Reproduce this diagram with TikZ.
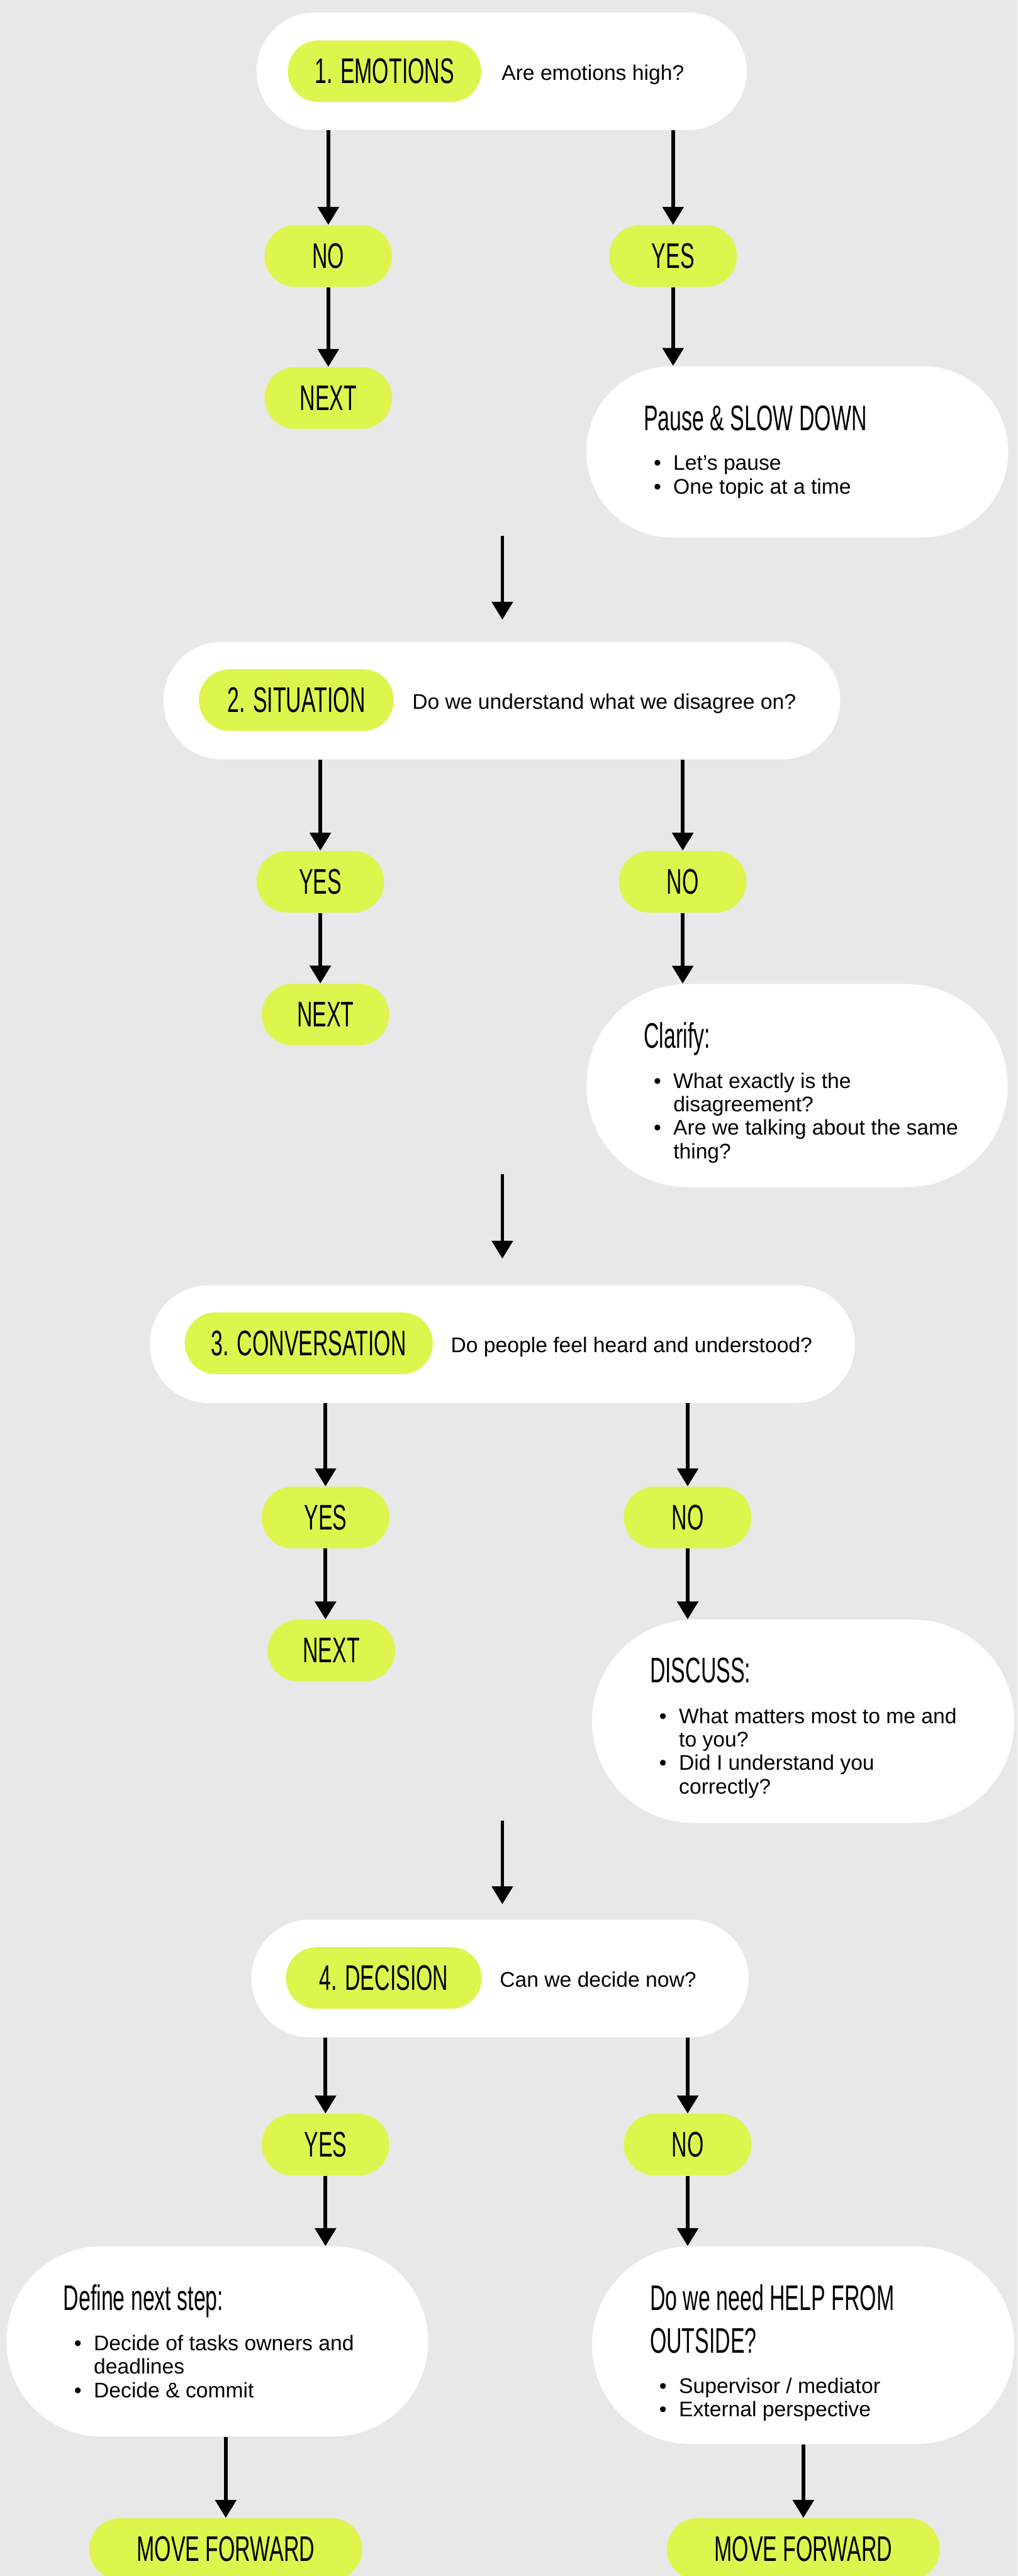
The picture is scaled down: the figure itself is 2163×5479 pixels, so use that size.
\documentclass[tikz,border=0pt]{standalone}
\usepackage{fontspec}
\setmainfont{Liberation Sans}
\newfontfamily\headfont[FakeStretch=0.6]{Liberation Sans}
\usetikzlibrary{arrows.meta, positioning, calc}
\definecolor{bggray}{HTML}{E8E8E8}
\definecolor{limegreen}{HTML}{DEF54E}
\newcommand{\bodysize}{\fontsize{12.8pt}{14.2pt}\selectfont}
\newcommand{\headsize}{\headfont\fontsize{21.5pt}{25.6pt}\selectfont}

\begin{document}
\begin{tikzpicture}[
  x=0.01cm, y=-0.01cm,
  every node/.style={font=\bodysize, text=black},
  ask/.style={
    rectangle, fill=white,
    minimum height=2.5cm, rounded corners=1.24cm,
    inner sep=0pt,
  },
  tag/.style={
    rectangle, fill=limegreen,
    minimum height=1.31cm, rounded corners=0.65cm,
    font=\headsize, inner sep=0pt,
  },
  answer/.style={tag, minimum width=2.71cm},
  card/.style={
    rectangle, fill=white,
    minimum height=#1, rounded corners=0.5*#1-0.01cm,
    inner sep=0pt,
  },
  question/.style={anchor=base west, inner sep=0pt},
  cardtitle/.style={anchor=base west, inner sep=0pt, font=\headsize},
  bullets/.style={anchor=base west, inner sep=0pt},
  flow/.style={-{Triangle[length=0.38cm, width=0.44cm]}, line width=2.2pt, black},
]

% Background
\fill[bggray] (0,0) rectangle (2163,5479);
\useasboundingbox (0,0) rectangle (2163,5479);
\clip (0,0) rectangle (2163,5479);

% Section 1 — emotions
\node[ask, minimum width=10.41cm] (q1) at (1066.5,151.5) {};
\node[tag, minimum width=4.11cm]  (t1) at (817.5,151.5) {1. EMOTIONS};
\node[question] (a1) at ([xshift=0.42cm, yshift=-0.19cm]t1.east) {Are emotions high?};

\node[answer] (n1)  at (698,544.5)  {NO};
\node[answer] (y1)  at (1431,544.5) {YES};
\node[answer] (nx1) at (698,846.5)  {NEXT};

\node[card=3.64cm, minimum width=8.96cm] (p1) at (1695,961) {};
\node[cardtitle] (p1title) at ([xshift=1.22cm, yshift=-1.37cm]p1.north west) {Pause \& SLOW DOWN};
\node[bullets] (p1list) at ([xshift=1.43cm, yshift=-2.22cm]p1.north west)
  {\begin{tabular}[t]{@{}l@{\hspace{0.26cm}}l@{}}
   \textbullet & Let’s pause\\
   \textbullet & One topic at a time
   \end{tabular}};

\draw[flow] (q1.south -| n1) -- (n1.north);
\draw[flow] (q1.south -| y1) -- (y1.north);
\draw[flow] (n1.south) -- (nx1.north);
\draw[flow] (y1.south) -- (y1.south |- p1.north);

% Link 1 -> 2
\coordinate (s12) at (1068,1140);
\coordinate (e12) at (1068,1318);
\draw[flow] (s12) -- (e12);

% Section 2 — situation
\node[ask, minimum width=14.38cm] (q2) at (1067,1490) {};
\node[tag, minimum width=4.14cm]  (t2) at (630,1489) {2. SITUATION};
\node[question] (a2) at ([xshift=0.38cm, yshift=-0.19cm]t2.east) {Do we understand what we disagree on?};

\node[answer] (y2)  at (681,1875.5)    {YES};
\node[answer] (n2)  at (1451.5,1875.5) {NO};
\node[answer] (nx2) at (692,2158)      {NEXT};

\node[card=4.32cm, minimum width=8.95cm] (c2) at (1694.5,2309) {};
\node[cardtitle] (c2title) at ([xshift=1.22cm, yshift=-1.37cm]c2.north west) {Clarify:};
\node[bullets] (c2list) at ([xshift=1.43cm, yshift=-2.22cm]c2.north west)
  {\begin{tabular}[t]{@{}l@{\hspace{0.26cm}}l@{}}
   \textbullet & What exactly is the\\
               & disagreement?\\
   \textbullet & Are we talking about the same\\
               & thing?
   \end{tabular}};

\draw[flow] (q2.south -| y2) -- (y2.north);
\draw[flow] (q2.south -| n2) -- (n2.north);
\draw[flow] (y2.south) -- (y2.south |- nx2.north);
\draw[flow] (n2.south) -- (n2.south |- c2.north);

% Link 2 -> 3
\coordinate (s23) at (1068,2498);
\coordinate (e23) at (1068,2677);
\draw[flow] (s23) -- (e23);

% Section 3 — conversation
\node[ask, minimum width=14.98cm] (q3) at (1068,2859) {};
\node[tag, minimum width=5.27cm]  (t3) at (656.5,2857) {3. CONVERSATION};
\node[question] (a3) at ([xshift=0.37cm, yshift=-0.2cm]t3.east) {Do people feel heard and understood?};

\node[answer] (y3)  at (692,3227.5)  {YES};
\node[answer] (n3)  at (1462,3227.5) {NO};
\node[answer] (nx3) at (704.5,3510.5) {NEXT};

\node[card=4.32cm, minimum width=8.97cm] (d3) at (1707.5,3661) {};
\node[cardtitle] (d3title) at ([xshift=1.23cm, yshift=-1.35cm]d3.north west) {DISCUSS:};
\node[bullets] (d3list) at ([xshift=1.43cm, yshift=-2.21cm]d3.north west)
  {\begin{tabular}[t]{@{}l@{\hspace{0.26cm}}l@{}}
   \textbullet & What matters most to me and\\
               & to you?\\
   \textbullet & Did I understand you\\
               & correctly?
   \end{tabular}};

\draw[flow] (q3.south -| y3) -- (y3.north);
\draw[flow] (q3.south -| n3) -- (n3.north);
\draw[flow] (y3.south) -- (y3.south |- nx3.north);
\draw[flow] (n3.south) -- (n3.south |- d3.north);

% Link 3 -> 4
\coordinate (s34) at (1068,3873);
\coordinate (e34) at (1068,4050);
\draw[flow] (s34) -- (e34);

% Section 4 — decision
\node[ask, minimum width=10.56cm] (q4) at (1063,4208) {};
\node[tag, minimum width=4.16cm]  (t4) at (816,4207) {4. DECISION};
\node[question] (a4) at ([xshift=0.37cm, yshift=-0.19cm]t4.east) {Can we decide now?};

\node[answer] (y4) at (692,4561.5)  {YES};
\node[answer] (n4) at (1462,4561.5) {NO};

\node[card=4.04cm, minimum width=8.96cm] (f4) at (462,4980) {};
\node[cardtitle] (f4title) at ([xshift=1.21cm, yshift=-1.37cm]f4.north west) {Define next step:};
\node[bullets] (f4list) at ([xshift=1.44cm, yshift=-2.22cm]f4.north west)
  {\begin{tabular}[t]{@{}l@{\hspace{0.26cm}}l@{}}
   \textbullet & Decide of tasks owners and\\
               & deadlines\\
   \textbullet & Decide \& commit
   \end{tabular}};

\node[card=4.2cm, minimum width=8.97cm] (h4) at (1707.5,4988) {};
\node[cardtitle] (h4title) at ([xshift=1.23cm, yshift=-1.37cm]h4.north west)
  {\begin{tabular}[t]{@{}l@{}}Do we need HELP FROM\\OUTSIDE?\end{tabular}};
\node[bullets] (h4list) at ([xshift=1.43cm, yshift=-3.13cm]h4.north west)
  {\begin{tabular}[t]{@{}l@{\hspace{0.26cm}}l@{}}
   \textbullet & Supervisor / mediator\\
   \textbullet & External perspective
   \end{tabular}};

\node[tag, minimum width=5.8cm] (m1) at (480,5421.5)  {MOVE FORWARD};
\node[tag, minimum width=5.8cm] (m2) at (1708,5421.5) {MOVE FORWARD};

\draw[flow] (q4.south -| y4) -- (y4.north);
\draw[flow] (q4.south -| n4) -- (n4.north);
\draw[flow] (y4.south) -- (y4.south |- f4.north);
\draw[flow] (n4.south) -- (n4.south |- h4.north);
\draw[flow] (f4.south -| m1) -- (m1.north);
\draw[flow] (h4.south -| m2) -- (m2.north);

\end{tikzpicture}
\end{document}
